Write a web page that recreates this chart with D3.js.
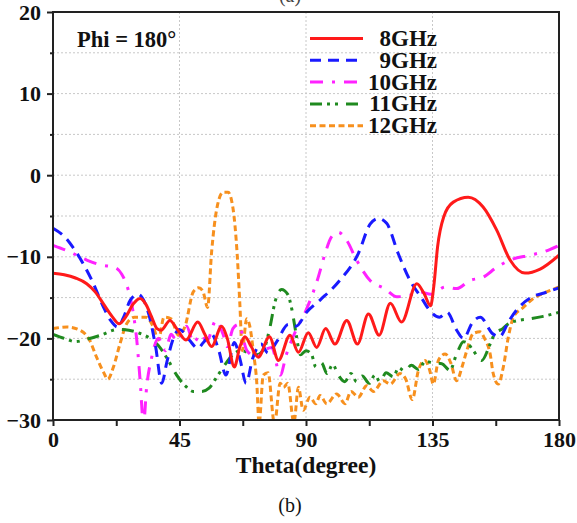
<!DOCTYPE html>
<html>
<head>
<meta charset="utf-8">
<script src="https://cdn.jsdelivr.net/npm/d3@7"></script>
<style>
  body { margin: 0; background: #fff; }
  svg { display: block; }
  text { font-family: "Liberation Serif", "Times New Roman", serif; }
</style>
</head>
<body>
<svg id="chart" width="577" height="523"></svg>
<script>
// series names (legend) and values: [theta, dB]
var seriesNames = ["8GHz", "9GHz", "10GHz", "11GHz", "12GHz"];

var red8 = [[0,-12.0],[4,-12.2],[8,-12.6],[12,-13.3],[15,-14.3],[18,-15.8],[21,-17.3],[23.5,-18.2],[26,-17.3],[28.5,-15.8],[31,-15.1],[33,-15.8],[35,-17.3],[37,-18.8],[38.5,-19.0],[41.6,-17.8],[44,-18.8],[47.3,-20.2],[51.5,-18.0],[54,-19.5],[56.4,-21.0],[60,-18.5],[62,-20],[64.5,-23.5],[66.5,-21.0],[68.3,-19.8],[70.5,-21.0],[73,-22.3],[77,-19.8],[80.2,-22.7],[84.3,-19.6],[87.3,-21.7],[90.8,-19.3],[93.8,-21.1],[97,-18.8],[100.3,-20.7],[104.5,-17.8],[108.3,-20.7],[112.2,-17.0],[116,-19.6],[120,-15.7],[124,-18.0],[129.4,-13.3],[132,-14.5],[134.3,-16.0],[135.5,-13.5],[136.8,-8.8],[139,-5.1],[142.4,-3.3],[147.7,-2.7],[153,-3.9],[157.8,-6.7],[162.6,-10.4],[167.9,-12.0],[173.3,-11.5],[180,-9.8]];

var blue9 = [[0,-6.5],[4,-7.5],[8,-9.3],[11,-11],[14,-13],[18,-16.2],[20.5,-17.8],[23,-18.6],[25,-17.5],[27.5,-15.3],[30.3,-14.6],[32.5,-15.5],[34.5,-17.6],[36.5,-21],[38.7,-25.5],[40.5,-22.9],[42.8,-20.0],[45,-18.9],[48.5,-20.2],[51.5,-21.2],[53.5,-20.5],[56.4,-19.5],[59,-21.5],[61.5,-24.5],[64.5,-20.5],[66.5,-22.5],[68.7,-25.5],[71,-22.5],[74,-20.7],[76.5,-21.8],[79.6,-20.4],[83.7,-18.3],[86.5,-18.5],[90.2,-16.8],[95,-15.3],[102,-12.9],[108.6,-9.6],[112.8,-6.0],[115.7,-5.3],[118.7,-5.9],[122.8,-9.6],[127,-12.9],[131,-15],[134.3,-16.7],[137.5,-17.4],[140.2,-16.8],[143.6,-19],[146,-20],[149.3,-18],[152,-17.4],[156.3,-19.4],[158.8,-19.8],[162.3,-17.8],[165,-16.5],[170.5,-14.9],[175,-14.4],[180,-13.8]];

var magenta10 = [[0,-8.6],[6,-9.4],[12,-10.4],[17,-11],[22,-11.3],[24.4,-12.1],[26.8,-14.1],[28.6,-17],[29.8,-20.2],[31,-25.2],[32.2,-30.5],[33.3,-26],[35,-22.5],[37.5,-20],[40,-21.5],[42,-19.5],[44,-20.3],[47.5,-18.5],[50,-20.5],[52.5,-19.5],[54.7,-20.3],[58,-17.8],[60.5,-19.5],[62,-21],[64,-18.8],[66,-18.3],[69,-21.5],[72.5,-22.3],[75,-21.5],[77.8,-21.1],[80.8,-24.5],[83,-22],[86.7,-18.8],[89.7,-16.8],[92.6,-14.3],[94,-12.9],[96.8,-9.6],[99,-7.6],[101.5,-7.0],[104.5,-8],[108,-10.4],[112.8,-12.9],[118,-13.9],[122.3,-14.9],[127,-14.7],[130.6,-14.3],[134.5,-14.6],[139.5,-13.7],[143.6,-13.9],[148.3,-12.9],[153,-12.5],[157.8,-11.3],[162.6,-10.4],[169.7,-9.8],[174.4,-9.4],[180,-8.6]];

var green11 = [[0,-19.5],[4,-20],[8,-20.4],[12,-20.1],[17,-19.6],[23,-18.9],[27,-19],[31,-19.4],[34.5,-20],[38,-21.1],[41,-22.7],[44,-24.5],[47,-25.8],[50,-26.5],[53,-26.5],[55.5,-26.1],[58.5,-24.6],[61,-23.3],[64,-22],[67,-21.5],[70,-21.8],[72.5,-22],[75,-21.3],[77.2,-18.6],[79,-15.5],[81.3,-14],[83.5,-14.6],[85,-16.5],[86.5,-19.5],[88,-22],[90,-21.5],[92,-22],[93.5,-23.5],[95.5,-23],[97.5,-24.3],[99.5,-23.2],[101.5,-24.5],[103.8,-25.3],[106,-24.3],[108,-25.3],[110,-24.6],[112.5,-25.5],[114.5,-24.5],[116.3,-25.3],[118.5,-24.2],[121,-24.7],[123,-23.6],[125,-24],[127.5,-23.3],[130,-23.8],[132.5,-22.8],[135,-23],[138.3,-23.1],[141.2,-23.9],[143.6,-21.9],[146,-20.4],[147.5,-20.6],[149.5,-21.5],[152.5,-22.7],[155.5,-20.7],[157.2,-19.4],[160,-18.8],[162,-18.2],[165.5,-17.8],[169.7,-17.6],[174.4,-17.3],[180,-16.8]];

var orange12 = [[0,-18.8],[5,-18.6],[9.6,-19],[13,-20.2],[15.5,-22.3],[17.9,-24.1],[19.5,-25],[21.5,-23.5],[23.8,-20.7],[26.2,-18.2],[29,-17.4],[33,-17.4],[35.7,-18.6],[37.5,-20.2],[39.5,-17.4],[42,-17.6],[44.6,-19.6],[47,-18.5],[49.9,-14.3],[51.8,-13.8],[53.3,-14.2],[55,-16.2],[56.4,-9.5],[58.5,-3.7],[60.5,-2.1],[62.3,-2.1],[64,-4],[65.5,-9.6],[66.5,-16],[67.3,-21.5],[68.9,-17.6],[70,-18.5],[71.3,-21.7],[72.5,-25.5],[73.3,-30.5],[74.8,-24.5],[76.5,-24.2],[78.8,-30.5],[80.8,-25.5],[82,-26],[83.5,-25.5],[85.7,-30.3],[87.3,-26],[89,-28.8],[91.4,-27.2],[93.5,-28],[95,-27],[97.4,-28],[100.9,-26.8],[103.9,-28],[106,-26.5],[108.6,-27.2],[111.6,-25.8],[114,-26.5],[117.5,-25.2],[120,-25.6],[123.4,-24.3],[125.5,-25],[127.8,-27.5],[130,-23.9],[132.3,-22.7],[134,-23.9],[135.3,-25.6],[137.1,-22.7],[139.5,-21.9],[141.5,-23],[143.6,-25.2],[145.5,-23.5],[147.2,-21.5],[149.5,-19.4],[151.9,-19.2],[153.5,-20],[155.5,-21.9],[156.6,-24.3],[158.4,-25.6],[160.2,-23.5],[162,-19.8],[163.8,-17.4],[167.3,-16.2],[170.9,-15.1],[175.6,-14.3],[180,-13.7]];

var xTicks = [0, 45, 90, 135, 180];
var yTicks = [20, 10, 0, -10, -20, -30];

var allSeries = [red8, blue9, magenta10, green11, orange12];
var colors = ["#ff1a1a", "#1a1aff", "#ff22ff", "#1f8a1f", "#f7901e"];
var dashes = [null, "11,7", "13,9,3,9", "12,5,3,5,3,8", "6,3.5"];

var svg = d3.select("#chart");
var mLeft = 53, mRight = 559, mTop = 12, mBottom = 420;

var x = d3.scaleLinear().domain([0, 180]).range([mLeft, mRight]);
var y = d3.scaleLinear().domain([-30, 20]).range([mBottom, mTop]);

// clipped "(a)" from the panel above
svg.append("text").attr("x", 290).attr("y", 2).attr("text-anchor", "middle")
  .style("font-size", "20px").attr("fill", "#444").text("(a)");

// grid (dotted)
var grid = svg.append("g").attr("stroke", "#c8c8c8").attr("stroke-width", 1).attr("stroke-dasharray", "2,2");
d3.range(-25, 20, 5).forEach(function(v) {
  grid.append("line").attr("x1", mLeft).attr("x2", mRight).attr("y1", y(v)).attr("y2", y(v));
});
[45, 90, 135].forEach(function(v) {
  grid.append("line").attr("x1", x(v)).attr("x2", x(v)).attr("y1", mTop).attr("y2", mBottom);
});

// curves
svg.append("clipPath").attr("id", "plotclip").append("rect")
  .attr("x", mLeft).attr("y", mTop).attr("width", mRight - mLeft).attr("height", mBottom - mTop);

var line = d3.line()
  .x(function(d) { return x(d[0]); })
  .y(function(d) { return y(d[1]); })
  .curve(d3.curveMonotoneX);

var plot = svg.append("g").attr("clip-path", "url(#plotclip)");
// draw back to front: orange, green, magenta, blue, red on top
[4, 3, 2, 1, 0].forEach(function(i) {
  plot.append("path")
    .datum(allSeries[i])
    .attr("d", line)
    .attr("fill", "none")
    .attr("stroke", colors[i])
    .attr("stroke-width", 3)
    .attr("stroke-dasharray", dashes[i]);
});

// frame
svg.append("rect").attr("x", mLeft).attr("y", mTop).attr("width", mRight - mLeft).attr("height", mBottom - mTop)
  .attr("fill", "none").attr("stroke", "#222").attr("stroke-width", 2);

// axes
var yAxis = svg.append("g").attr("transform", "translate(" + mLeft + ",0)")
  .call(d3.axisLeft(y).tickValues(yTicks).tickSize(6).tickPadding(6).tickFormat(d3.format("d")));
var yMinor = svg.append("g").attr("transform", "translate(" + mLeft + ",0)")
  .call(d3.axisLeft(y).tickValues([15, 5, -5, -15, -25]).tickSize(3).tickFormat(""));
var xAxis = svg.append("g").attr("transform", "translate(0," + mBottom + ")")
  .call(d3.axisBottom(x).tickValues(xTicks).tickSize(6).tickPadding(5));
var xMinor = svg.append("g").attr("transform", "translate(0," + mBottom + ")")
  .call(d3.axisBottom(x).tickValues([22.5, 67.5, 112.5, 157.5]).tickSize(6).tickFormat(""));

[yAxis, yMinor, xAxis, xMinor].forEach(function(a) {
  a.select(".domain").remove();
  a.selectAll(".tick line").attr("stroke", "#222").attr("stroke-width", 2);
  a.selectAll(".tick text")
    .style("font-family", "'Liberation Serif', serif")
    .style("font-size", "22px").style("font-weight", "bold").attr("fill", "#111");
});

// axis title
svg.append("text").attr("x", (mLeft + mRight) / 2).attr("y", 473).attr("text-anchor", "middle")
  .style("font-size", "23.5px").style("font-weight", "bold").attr("fill", "#111").text("Theta(degree)");

// panel label
svg.append("text").attr("x", 290).attr("y", 512).attr("text-anchor", "middle")
  .style("font-size", "20px").attr("fill", "#111").text("(b)");

// annotation
svg.append("text").attr("x", 77).attr("y", 47)
  .style("font-size", "22.5px").style("font-weight", "bold").attr("fill", "#111").text("Phi = 180°");

// legend
var legend = svg.append("g");
seriesNames.forEach(function(name, i) {
  var ly = 38.5 + i * 21.8;
  legend.append("line").attr("x1", 310).attr("x2", 363).attr("y1", ly).attr("y2", ly)
    .attr("stroke", colors[i]).attr("stroke-width", 3).attr("stroke-dasharray", dashes[i]);
  legend.append("text").attr("x", 437).attr("y", ly + 7.5).attr("text-anchor", "end")
    .style("font-size", "23px").style("font-weight", "bold").attr("fill", "#111").text(name);
});
</script>
</body>
</html>
